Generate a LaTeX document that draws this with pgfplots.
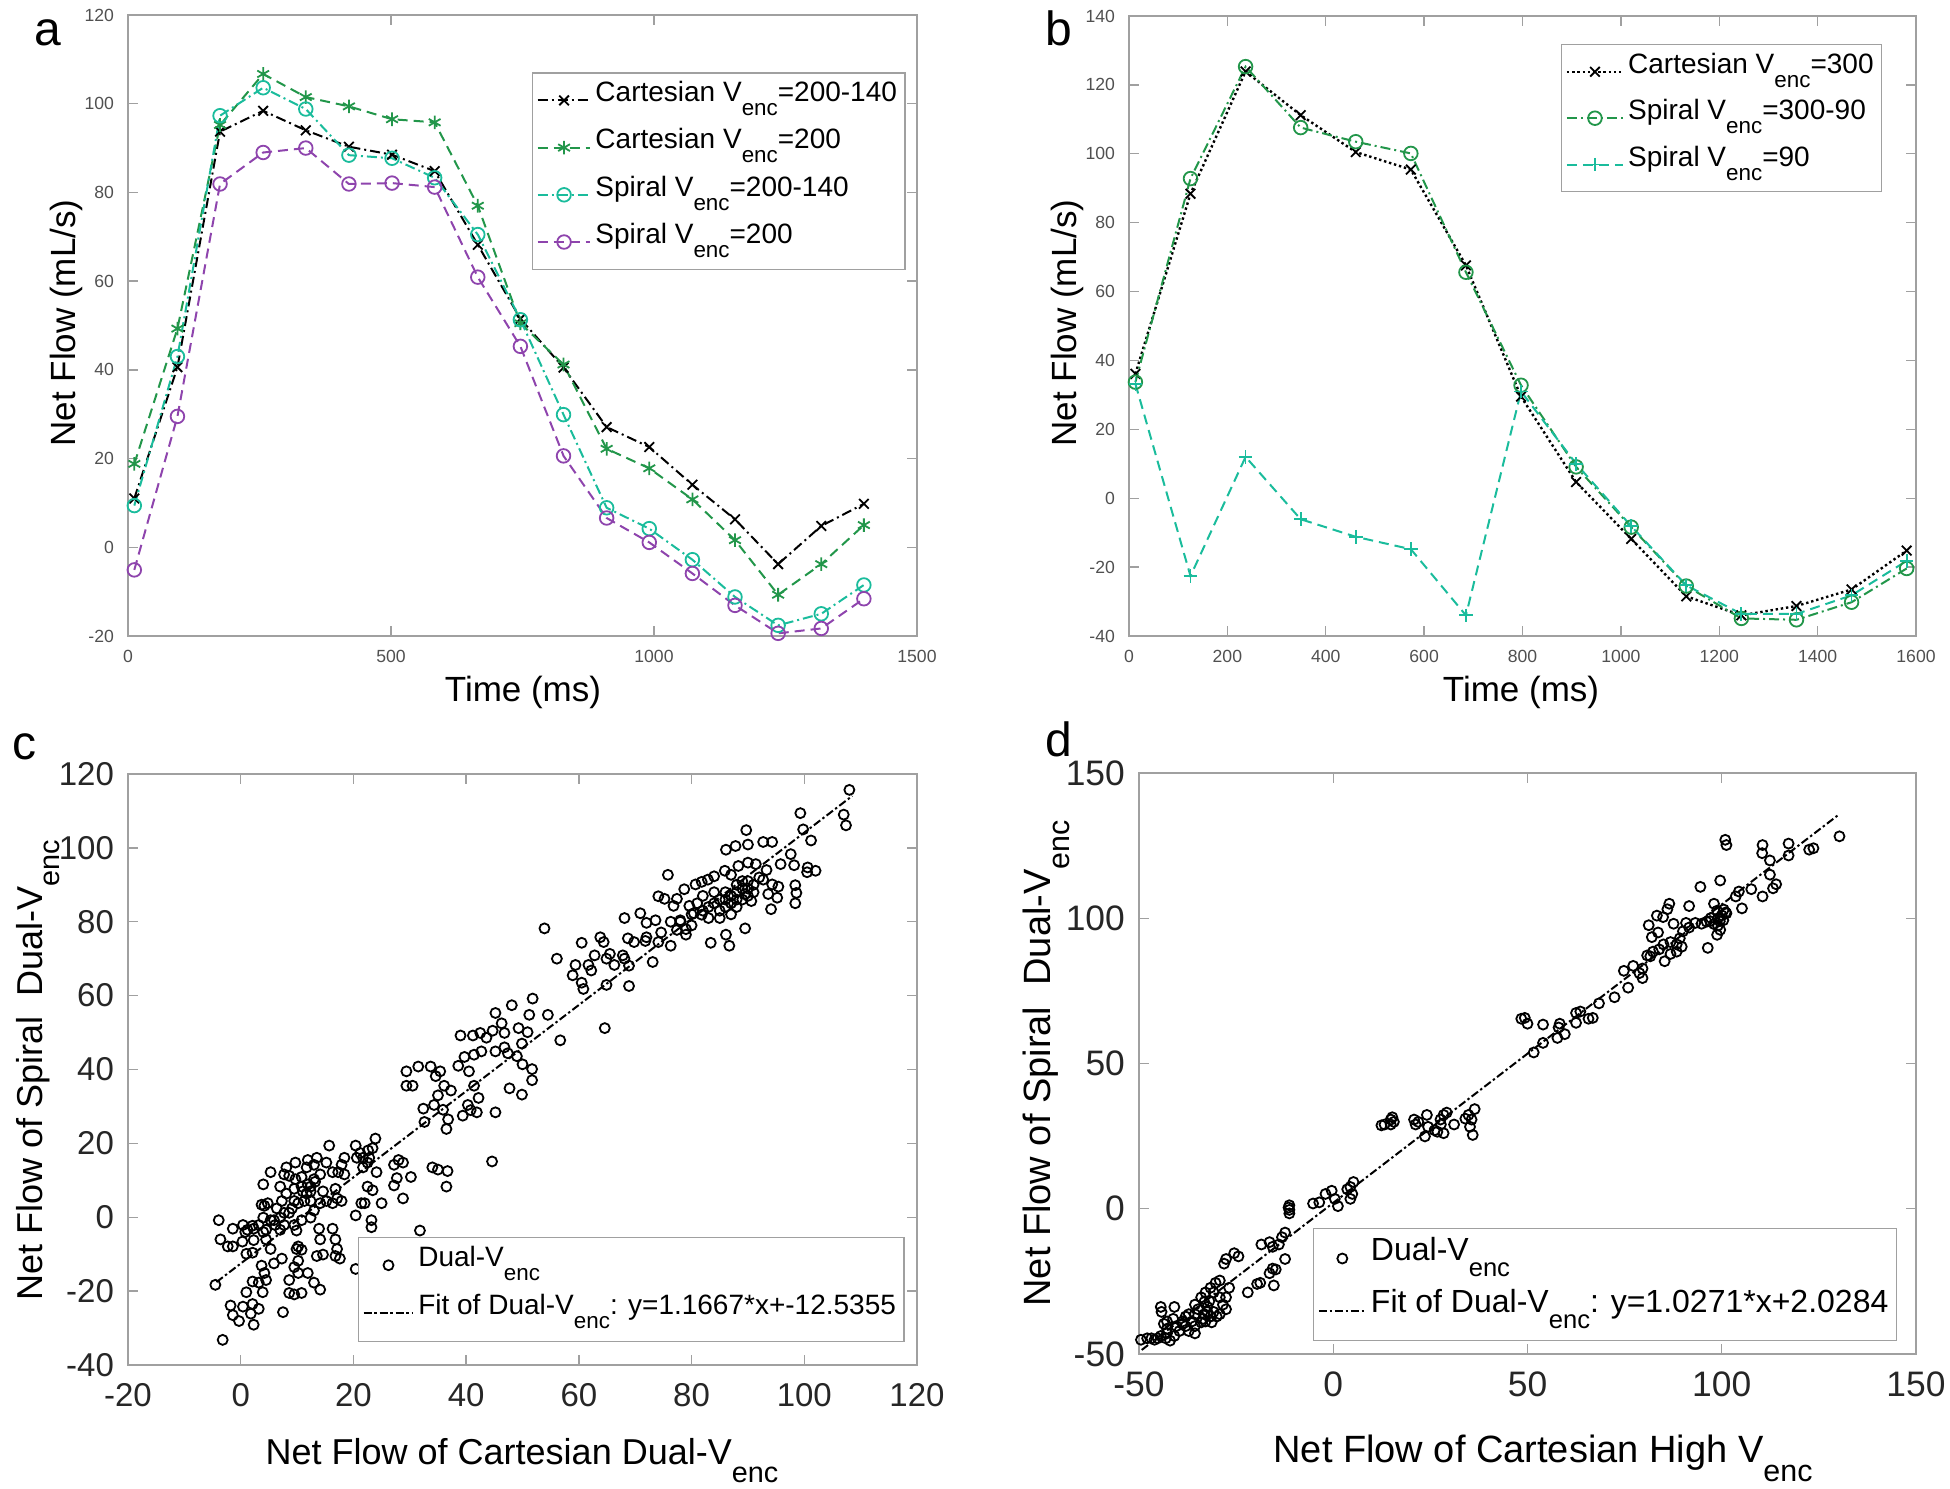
\documentclass[border=0pt]{standalone}
\usepackage{fontspec}
\setmainfont{Liberation Sans}
\usepackage{graphicx}
\usepackage{pgfplots}
\pgfplotsset{compat=1.18}

\definecolor{cgreen}{RGB}{34,150,74}
\definecolor{cteal}{RGB}{26,188,156}
\definecolor{cpurple}{RGB}{142,68,173}
\definecolor{axgray}{RGB}{160,160,160}
\definecolor{tickgray}{RGB}{80,80,80}

\newcommand{\enc}{\raisebox{-0.5em}{\scalebox{0.8}{enc}}}
\newcommand{\fs}[1]{\fontsize{#1}{1.2\dimexpr#1pt\relax}\selectfont}

\pgfplotsset{
  matlab/.style={
    scale only axis, anchor=south west,
    axis line style={axgray, line width=0.35pt},
    tick align=inside, major tick length=2.5pt,
    tick style={axgray, line width=0.35pt},
    /pgf/number format/assume math mode=true,
    /pgf/number format/1000 sep={},
    scaled ticks=false,
    legend cell align=left,
    legend style={draw=axgray, line width=0.35pt, inner xsep=1pt, inner ysep=1pt,
      row sep=0pt, nodes={inner sep=1pt}},
  },
  dd/.style={line width=0.5pt, dash pattern=on 2.5pt off 1pt on 0.5pt off 1pt},
  da/.style={line width=0.5pt, dash pattern=on 2.5pt off 1.5pt},
  dt/.style={line width=0.6pt, dash pattern=on 0.6pt off 0.7pt},
  mk/.style={mark=#1, mark size=1.7pt, mark options={solid, line width=0.45pt}},
}

\begin{document}
\begin{tikzpicture}
\path[use as bounding box] (0,0) rectangle (487.5pt,372.25pt);

% ---------------- panel a ----------------
\begin{axis}[matlab, at={(32pt,213.25pt)}, width=197.25pt, height=155.25pt,
  xmin=0, xmax=1500, ymin=-20, ymax=120,
  xtick={0,500,1000,1500}, ytick={-20,0,20,40,60,80,100,120},
  tick label style={font=\fs{4.4}, text=tickgray},
  legend style={at={(0.512,0.908)}, anchor=north west, font=\fs{7},
    nodes={inner sep=1pt, text height=5.2pt, text depth=4.6pt}},
  legend image code/.code={\draw[mark repeat=2,mark phase=2,#1] plot coordinates {(0pt,0pt) (6.6pt,0pt) (13.2pt,0pt)};}]
\addplot[black, dd, mk=x] coordinates {
 (12,11.0) (94,40.6) (175,93.7) (257,98.4) (338,94.0) (420,90.3) (502,88.5) (583,84.8) (665,68.2)
 (746,51.5) (828,40.5) (910,27.1) (991,22.6) (1073,14.1) (1154,6.3) (1236,-3.8) (1318,4.8) (1399,9.8)};
\addlegendentry{Cartesian V\enc=200-140}
\addplot[cgreen, da, mk=asterisk] coordinates {
 (12,18.8) (94,49.3) (175,95.2) (257,106.7) (338,101.5) (420,99.4) (502,96.5) (583,95.8) (665,77.0)
 (746,50.5) (828,41.2) (910,22.2) (991,17.8) (1073,10.8) (1154,1.6) (1236,-10.7) (1318,-3.8) (1399,5.0)};
\addlegendentry{Cartesian V\enc=200}
\addplot[cteal, dd, mk=o] coordinates {
 (12,9.4) (94,43.0) (175,97.3) (257,103.6) (338,98.8) (420,88.4) (502,87.7) (583,83.3) (665,70.5)
 (746,51.3) (828,29.9) (910,8.9) (991,4.2) (1073,-2.8) (1154,-11.2) (1236,-17.6) (1318,-15.0) (1399,-8.5)};
\addlegendentry{Spiral V\enc=200-140}
\addplot[cpurple, da, mk=o] coordinates {
 (12,-5.1) (94,29.5) (175,81.9) (257,89.0) (338,90.0) (420,81.9) (502,82.1) (583,81.2) (665,60.9)
 (746,45.3) (828,20.6) (910,6.6) (991,1.1) (1073,-5.9) (1154,-13.1) (1236,-19.4) (1318,-18.3) (1399,-11.6)};
\addlegendentry{Spiral V\enc=200}
\end{axis}

% ---------------- panel b ----------------
\begin{axis}[matlab, at={(282.25pt,213.25pt)}, width=196.75pt, height=155pt,
  xmin=0, xmax=1600, ymin=-40, ymax=140,
  xtick={0,200,...,1600}, ytick={-40,-20,...,140},
  tick label style={font=\fs{4.4}, text=tickgray},
  legend style={at={(0.549,0.955)}, anchor=north west, font=\fs{7},
    nodes={inner sep=1pt, text height=5.2pt, text depth=4.4pt}},
  legend image code/.code={\draw[mark repeat=2,mark phase=2,#1] plot coordinates {(0pt,0pt) (7pt,0pt) (14pt,0pt)};}]
\addplot[black, dt, mk=x] coordinates {
 (13,36.1) (125,88.4) (237,123.9) (349,111.2) (461,100.5) (573,95.4) (685,67.6) (797,29.5)
 (909,4.7) (1021,-11.8) (1133,-28.5) (1245,-34.0) (1357,-31.3) (1469,-26.5) (1581,-15.2)};
\addlegendentry{Cartesian V\enc=300}
\addplot[cgreen, dd, mk=o] coordinates {
 (13,33.7) (125,92.8) (237,125.3) (349,107.6) (461,103.5) (573,100.1) (685,65.6) (797,32.8)
 (909,9.1) (1021,-8.4) (1133,-25.5) (1245,-34.9) (1357,-35.3) (1469,-30.2) (1581,-20.4)};
\addlegendentry{Spiral V\enc=300-90}
\addplot[cteal, da, mk=+] coordinates {
 (13,33.2) (125,-22.6) (237,12.0) (349,-6.1) (461,-11.2) (573,-14.8) (685,-34.0) (797,31.0)
 (909,10.0) (1021,-8.1) (1133,-25.3) (1245,-33.6) (1357,-33.6) (1469,-28.2) (1581,-18.2)};
\addlegendentry{Spiral V\enc=90}
\end{axis}

% ---------------- panel c ----------------
\begin{axis}[matlab, at={(32pt,31pt)}, width=197.25pt, height=147.75pt,
  xmin=-20, xmax=120, ymin=-40, ymax=120,
  xtick={-20,0,...,120}, ytick={-40,-20,...,120},
  tick label style={font=\fs{8.25}, text=black!85},
  xticklabel style={yshift=-1pt},
  legend style={at={(0.2915,0.039)}, anchor=south west, font=\fs{7},
    nodes={inner sep=1pt, text height=5.4pt, text depth=4.6pt}},
  legend image code/.code={\draw[mark repeat=2,mark phase=2,#1] plot coordinates {(0pt,0pt) (6.2pt,0pt) (12.4pt,0pt)};}]
\addplot[only marks, mark=o, mark size=1.25pt, black, line width=0.45pt] coordinates {
(108,115.7)(107,109)(107.4,106.1)(99.3,109.4)(99.8,105)(101.2,102)(89.7,104.8)(90,100.9)(86.1,99.5)(87.8,100.5)
(92.7,101.6)(94.3,101.6)(97.6,98.3)(98.2,95.3)(100.6,94.7)(102,93.8)(100.5,93.4)(95.8,95.6)(93.3,94)(91.4,95.6)
(90,96)(88.3,95.1)(85.9,93.8)(75.8,92.7)(78.7,88.8)(80.7,90.1)(81.8,90.8)(82.9,91.4)(84,92.3)(87,92.7)
(92.7,91.4)(94.3,90.1)(95.4,89.5)(93.6,87.5)(95.2,86.5)(94.1,83.4)(89.5,87.5)(90.6,85.6)(89.5,78.2)(86.1,76.5)
(86.7,73.5)(83.4,74.3)(98.4,85)(98.6,87.8)(98.4,89.9)
(84,85)(85,86)(86,84)(87,87)(88,88)(89,86)(90,89)(91,90)(85,83)(86,88)(88,84)(89,91)(87,82)(90,87)(83,84)
(84,88)(86,86)(88,90)(89,89)(91,88)(85,81)(87,85)(88,86)(90,91)(92,92)(80,82)(82,83)(83,81)(81,85)(82,87)
(80,79)(79,78)(78,80)
(77.4,86.2)(75.2,86.2)(74.1,86.9)(76.8,84.3)(79.6,84.3)(80.4,82.3)(81.8,81.9)(78,80.4)(76.3,80)(77.4,77.8)
(79,76.5)(74.6,77.1)(74.1,74.5)(76.3,73.5)(73.6,80.4)(70.9,82.3)(68.1,81)(72,79.7)(73.1,69.1)(68.7,75.5)
(69.8,74.5)(71.8,74.8)(72,75.8)(68.1,70)(67.8,70.9)(68.9,68.1)(68.9,62.6)(66.3,68.3)(64.9,70)(65.5,71.3)
(63.8,75.8)(60.5,74.3)(64.4,74.5)(62.8,70.9)(61.7,68.3)(62.2,66.8)(59.4,68.3)(58.9,65.5)(60.5,63.5)(60.8,61.8)
(64.9,62.9)(56.1,70)(53.9,78.2)(64.6,51.2)(56.7,47.9)(54.5,54.8)(51.8,59.2)(51.2,54.8)(48.1,57.4)(46.3,52.5)
(45.2,55.3)(44.7,50.5)(46.8,49.9)(49.3,51.2)(50.9,50.1)(49.9,47)(46.8,46)(47.4,44.4)(49,43.6)(50,41.4)
(51.7,40.1)(51.7,37.1)(49.9,33.2)(47.7,34.9)(45.2,44.9)(43.6,48.6)(42.5,49.9)(41.2,49.2)(39,49.2)(42.7,44.9)
(41.4,44)(39.7,43.4)(38.6,41)(40.5,39.5)(41.4,35.6)(42.2,32.3)(41.9,28.4)(40.8,29)(40.3,30.4)(39.4,27.5)
(36.8,26.5)(37.3,34.3)(36.1,35.6)(35,33)(34.3,30.4)(34.6,38.2)(33.7,40.8)(35.4,39.5)(32.6,25.8)(31.5,40.8)
(29.4,39.5)(29.4,35.6)(30.5,35.6)(45.2,28.4)(35.9,29.1)(32.4,29.4)(36.5,23.9)(44.6,15.1)(36.5,8.3)(36.7,12.5)
(34,13.5)(35,12.9)(31.8,-3.6)(30.2,10.9)(28.8,5.1)(27.2,8.6)(27.7,10.6)(28,15.5)(28.8,14.8)(27.2,14.2)
(25,3.8)(23.9,21.3)(23.4,18.7)(22.6,18.1)(21.7,16.1)(21.2,17.4)(20.4,19.4)(20.6,16.1)(22.5,14.8)(21.7,13.5)
(22.8,16.1)(24.1,12.2)(22.5,8.3)(23.4,7.3)(22,3.8)(21.4,3.8)(23.2,-0.8)(23.2,-2.7)(20.4,0.5)(20.4,-14)
(18.4,16.1)(17.9,14.2)(17.3,12.2)(18.4,11.6)(17.9,4.4)(15.7,19.4)(15.2,14.8)(16.3,12.2)(16.8,7.7)(17.1,5.1)
(16.3,3.8)(15.2,4.4)(14.1,3.8)(14.6,7)(13.2,9.6)(14.1,11.6)(13,14.2)(13.5,16.1)(11.9,15.5)(11.7,13.5)
(9.7,14.8)(10.8,10.9)(11.9,8.9)(11.7,6.4)(12.4,4.4)(13,1.8)(12.4,-0.1)(13.9,-3.1)(14.1,-6)(14.6,-10.1)
(13.5,-10.5)(14.1,-19.6)(13,-17.7)(11.9,-15.1)(16.3,-3.1)(16.8,-6)(17.1,-8.6)(16.8,-10.5)(17.6,-11.2)(9.7,10.3)
(8.6,11.2)(8.1,13.5)(7,8.3)(8.1,6.4)(7.3,4.4)(6.4,2.4)(8.6,1.2)(7.7,-2.1)(7,-3.4)(9.5,-2.1)
(9.9,-3.6)(10.8,-0.8)(10.2,-7.9)(9.9,-8.6)(10.8,-8.8)(10.2,-11.8)(9.5,-13.5)(10.2,-15.1)(8.6,-17)(9.5,-20.9)
(8.6,-20.5)(10.8,-20.5)(5.9,-12.5)(7.3,-11.2)(7.5,-25.7)(5.3,-8.6)(4.5,-3.4)(4.5,-6)(4,-4)(3.7,-13.1)
(4.2,-15.1)(3.2,-17.7)(3.9,-20.3)(4.5,-17)(3.2,-24.8)(2.1,-23.5)(1.8,-26.1)(2.3,-29.1)(1,-20.3)(0.4,-24.2)
(-0.3,-28.1)(-1.4,-26.5)(-1.8,-23.9)(-3.2,-33.2)(-4.5,-18.3)(2.1,-17.4)(1,-9.9)(2.1,-9.6)(2.3,-6.2)(0.3,-6.6)
(-1.4,-7.9)(-2.3,-7.9)(-3.6,-6)(-3.9,-0.8)(-1.4,-3.1)(0.4,-2.1)(1.2,-3.4)(2.3,-3.1)(3.2,-2.1)(4,-0.1)
(4.2,3.1)(3.7,3.4)(4.8,3.8)(4,8.9)(5.3,12.2)(2.1,-2.3)(0.8,-4)(5.3,-0.8)(6.1,-2.1)(5.9,-0.8)
(7,-0.1)(7.7,1.2)(9.1,2.4)(9.5,4.4)(10.2,3.8)(11.3,4.4)(12.4,7)(12.4,8.3)(13,10.3)(10.8,8.3)
(9.5,7.7)(7.7,11.6)(11,7)};
\addlegendentry{Dual-V\enc}
\addplot[black, line width=0.5pt, dash pattern=on 2pt off 0.7pt on 0.6pt off 0.7pt] coordinates {(-4.3,-17.55) (108.5,114.05)};
\addlegendentry{Fit of Dual-V\enc: y=1.1667*x+-12.5355}
\end{axis}

% ---------------- panel d ----------------
\begin{axis}[matlab, at={(284.75pt,33.75pt)}, width=194.25pt, height=145.25pt,
  xmin=-50, xmax=150, ymin=-50, ymax=150,
  xtick={-50,0,50,100,150}, ytick={-50,0,50,100,150},
  tick label style={font=\fs{8.85}, text=black!85},
  xticklabel style={yshift=-1pt},
  legend style={at={(0.224,0.022)}, anchor=south west, font=\fs{8},
    nodes={inner sep=1pt, text height=6pt, text depth=5pt}},
  legend image code/.code={\draw[mark repeat=2,mark phase=2,#1] plot coordinates {(0pt,0pt) (5.9pt,0pt) (11.8pt,0pt)};}]
\addplot[only marks, mark=o, mark size=1.25pt, black, line width=0.45pt] coordinates {
(130.3,128.2)(123.6,124.1)(122.5,123.6)(117.2,125.7)(117.2,121.6)(110.5,125.2)(110.4,122.4)(112.4,119.9)(107.6,110)(112.4,115)
(114,111.7)(113.2,110.3)(110.5,107.5)(104.4,109.2)(103.6,107.5)(105.2,103.4)(100.9,127)(101.2,125.2)(99.6,113)(101.2,101.7)
(100.4,99.3)(99.6,96)(98.8,94.3)(96.4,89.8)(94.5,110.8)(98,105)(98.8,102.6)(97.2,100.1)(96.1,98.8)(94.8,98.1)
(93.2,98.4)(91.6,104.2)(91.6,96.8)(90.8,98.4)(90,95.5)(89.2,93.1)(88.4,91)(86.8,91.8)(87.6,98.1)(86.5,105)
(86,103.1)(84.9,100.4)(83.3,100.9)(81.2,97.6)(82,93.5)(83.6,95.1)(85,91)(83.9,89.3)(85.3,85.2)(86.8,87.7)
(88.4,88.5)(89.7,90.2)(82.3,88.5)(81.6,86.9)(80.8,87.2)(79.6,82.7)(79.6,79.4)(78.8,81.1)(77.2,83.6)(74.8,81.9)
(75.9,76.1)(72.4,72.8)(68.4,70.7)(66.8,65.7)(65.7,65.4)(63.6,67.9)(62.5,64)(62.5,67.4)(59.6,60.1)(58.3,63.7)
(57.7,58.8)(58,62.4)(54,57.1)(51.6,53.8)(54,63.4)(50,63.7)(48.4,65.4)(49.3,65.7)
(99,100)(100,101)(101,102)(99.5,99)(100.5,103)(98,98)(97,99)(99,97.5)
(36.4,34.3)(35.6,30.7)(35.9,25.4)(35.2,28.2)(34.8,32.3)(34,31)(31.1,29)(29.2,33.1)(28.4,32.3)(27.6,30.7)
(26.8,26.5)(28.4,26)(27.7,29)(26.1,27)(24.4,28.2)(23.6,24.9)(24.1,32.3)(21.9,29.9)(21.2,29)(20.8,30.7)
(15.6,29.9)(14.8,29)(13.2,29)(12.4,28.7)(14.8,30.7)(15.2,31.5)
(5.2,9.2)(4.4,7.5)(4.9,5.1)(4.4,3.4)(3.6,6.7)(0.4,3.4)(1.2,0.9)(-2,5.1)(-3.6,2.2)(-5.2,1.8)
(-0.4,6.2)(-11.3,1.2)(-11.3,-0.4)(-11.3,-1.6)(-11.5,0.4)(-12.4,-8.2)(-13.2,-9.8)(-14,-12.3)(-15.6,-13.1)(-12.4,-17.3)
(-15.6,-20.6)(-16.4,-22.2)(-14.8,-20.9)(-15.3,-26.4)(-18.5,-12.3)(-16.4,-11.5)(-18.8,-25.5)(-19.6,-25.9)(-22,-28.8)(-24.4,-16.4)
(-25.5,-15.3)(-27.6,-17.3)(-28.1,-18.9)
(-26.8,-27.2)(-27.6,-30.5)(-29.2,-24.7)(-30.3,-25.5)(-31.6,-27.2)(-32.9,-28.8)(-34,-30.5)(-33.2,-32.1)(-31.9,-31.8)(-28.4,-33)
(-27.6,-34.6)(-29.2,-30.5)(-30.8,-28.8)(-34.8,-34.6)(-35.6,-36.3)(-37.2,-36.3)(-38,-37.1)(-38.8,-38.8)(-40.4,-40.4)(-41.2,-37.9)
(-42.8,-38.8)(-43.6,-39.6)(-44.4,-33.8)(-44.2,-35.5)(-40.9,-33.8)(-39.6,-42.1)(-38.8,-39.6)(-37.2,-42.1)(-35.6,-42.9)(-33.2,-36.3)
(-32.4,-35.5)(-31.6,-37.1)(-33.5,-37.9)(-32.9,-38.8)(-34,-39.1)(-36.4,-38.8)(-35.6,-40.4)(-38,-40.4)(-42.8,-42.9)(-42,-45.4)
(-43.1,-44.6)(-45.2,-44.6)(-46,-45.1)(-46.8,-44.6)(-47.9,-44.6)(-49.5,-45.1)(-44.4,-43.8)(-40.9,-43.8)(-42.8,-41.3)(-30.8,-35.5)
(-30,-37.1)(-29.2,-36.3)(-31.3,-39.1)(-35.6,-33)(-32.4,-33.8)};
\addlegendentry{Dual-V\enc}
\addplot[black, line width=0.5pt, dash pattern=on 2pt off 0.7pt on 0.6pt off 0.7pt] coordinates {(-49.3,-48.6) (130,135.55)};
\addlegendentry{Fit of Dual-V\enc: y=1.0271*x+2.0284}
\end{axis}

% ---------------- panel letters and axis labels ----------------
\node[anchor=base west, inner sep=0pt, font=\fs{12}] at (8.5pt,360.75pt) {a};
\node[anchor=base west, inner sep=0pt, font=\fs{12}] at (261.25pt,360.75pt) {b};
\node[anchor=base west, inner sep=0pt, font=\fs{12}] at (3pt,182.25pt) {c};
\node[anchor=base west, inner sep=0pt, font=\fs{12}] at (261.25pt,183pt) {d};

\node[rotate=90, font=\fs{8.75}] at (16.5pt,291.5pt) {Net Flow (mL/s)};
\node[font=\fs{8.75}] at (130.75pt,199.25pt) {Time (ms)};
\node[rotate=90, font=\fs{8.75}] at (266.75pt,291.5pt) {Net Flow (mL/s)};
\node[font=\fs{8.75}] at (380.25pt,199.25pt) {Time (ms)};

\node[rotate=90, anchor=base, font=\fs{9}] at (10.5pt,104.75pt) {Net Flow of Spiral\ \ Dual-V\enc};
\node[anchor=base, font=\fs{9}] at (130.5pt,6pt) {Net Flow of Cartesian Dual-V\enc};
\node[rotate=90, anchor=base, font=\fs{9.5}] at (262.5pt,106.4pt) {Net Flow of Spiral\ \ Dual-V\enc};
\node[anchor=base, font=\fs{9.5}] at (385.75pt,6.6pt) {Net Flow of Cartesian High V\enc};
\end{tikzpicture}
\end{document}
